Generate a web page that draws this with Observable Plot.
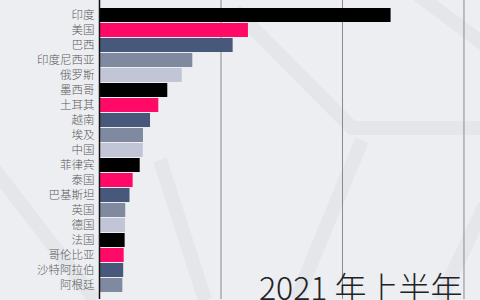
<!DOCTYPE html>
<html>
<head>
<meta charset="utf-8">
<script src="https://cdn.jsdelivr.net/npm/d3@7"></script>
<script src="https://cdn.jsdelivr.net/npm/@observablehq/plot@0.6"></script>
<style>
  html, body { margin: 0; padding: 0; width: 480px; height: 300px; overflow: hidden; }
  body {
    background-color: #eceef2;
    background-image: url("data:image/svg+xml;utf8,<svg xmlns='http://www.w3.org/2000/svg' width='480' height='300'><g fill='none' stroke='%23e4e6ea' stroke-width='14'><polyline points='235,10 352,128 480,128'/><polyline points='362,140 296,300'/><polyline points='418,-5 485,45'/><polyline points='485,205 440,300'/><polyline points='-5,170 95,300'/><polyline points='160,160 205,300'/></g></svg>");
    background-repeat: no-repeat;
  }
  #chart svg { display: block; }
</style>
</head>
<body>
<div id="chart"></div>
<script>
const countries = ["印度","美国","巴西","印度尼西亚","俄罗斯","墨西哥","土耳其","越南","埃及","中国","菲律宾","泰国","巴基斯坦","英国","德国","法国","哥伦比亚","沙特阿拉伯","阿根廷"];
const values = [24.0, 12.26, 11.0, 7.68, 6.81, 5.62, 4.88, 4.20, 3.62, 3.60, 3.35, 2.77, 2.51, 2.16, 2.14, 2.11, 2.03, 1.99, 1.92];
const palette = ["#000000", "#ff0a66", "#48587a", "#7f8aa1", "#c2c5d5"];
const gridValues = [10, 20, 30];
const title = "2021 年上半年";

const rows = countries.map((name, i) => ({name, value: values[i], color: palette[i % palette.length]}));

const chart = Plot.plot({
  width: 480,
  height: 300,
  marginLeft: 99,
  marginRight: 0,
  marginTop: 0,
  marginBottom: 1,
  style: {background: "transparent", fontFamily: "'Noto Sans CJK SC', 'Noto Sans', sans-serif", fontSize: "11.5px", color: "#555"},
  x: {domain: [0, 31.36], axis: null},
  y: {domain: countries, padding: 0.1, axis: null},
  marks: [
    Plot.ruleX(gridValues, {stroke: "#8a8a8a", strokeWidth: 1}),
    Plot.barX(rows, {y: "name", x: "value", fill: "color"}),
    Plot.ruleX([0], {stroke: "#111", strokeWidth: 1.5}),
    Plot.axisY({tickSize: 0, tickPadding: 5, fontSize: 11.5, fill: "#5a5a5a", fontWeight: 300, label: null}),
    Plot.text([title], {frameAnchor: "bottom-right", textAnchor: "end", lineAnchor: "bottom", dx: -18, dy: 0, fontSize: 32, fill: "#222", fontWeight: 300})
  ]
});
document.getElementById("chart").appendChild(chart);
</script>
</body>
</html>
